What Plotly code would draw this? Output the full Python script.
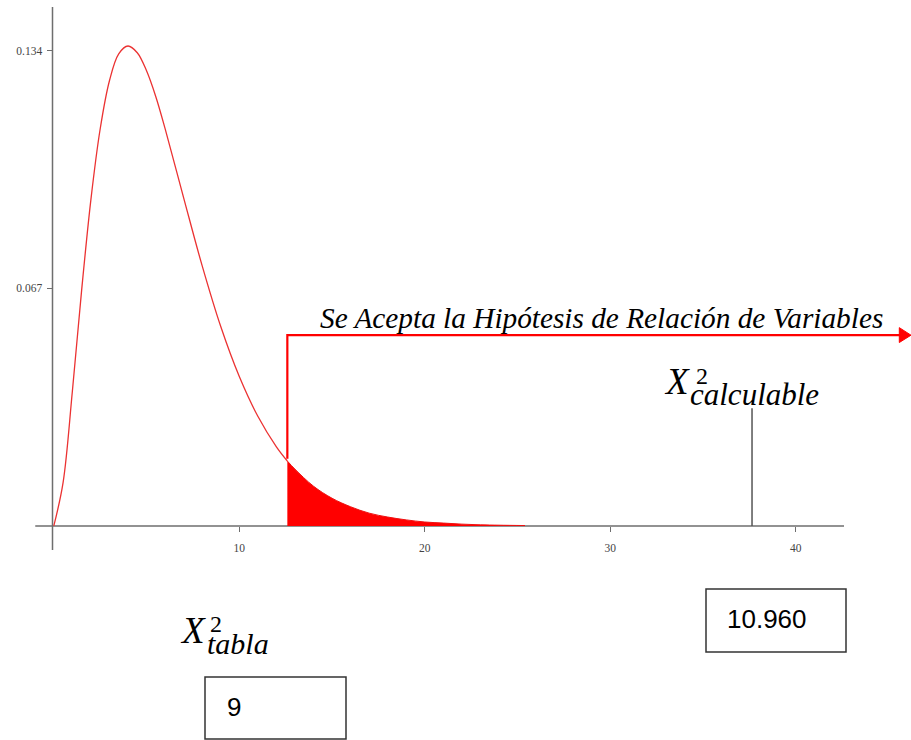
import plotly.graph_objects as go

# ---- data (chi-square density, df = 6) ----
curve_x = [0, 0.5, 1, 1.5, 2, 2.5, 3, 3.5, 4, 4.5, 5, 5.5, 6, 7, 8, 9, 10, 11, 12, 12.59]
curve_y = [0, 0.0122, 0.0379, 0.0664, 0.0920, 0.1119, 0.1255, 0.1331, 0.1353, 0.1334,
           0.1283, 0.1210, 0.1120, 0.0925, 0.0733, 0.0562, 0.0421, 0.0309, 0.0223, 0.0183]
tail_x = [12.59, 13, 14, 15, 16, 17, 18, 19, 20, 21, 22, 23, 24, 25.4]
tail_y = [0.0183, 0.0160, 0.0112, 0.0078, 0.0054, 0.0036, 0.0025, 0.0017, 0.0011,
          0.0008, 0.0005, 0.0003, 0.0002, 0.0001]
chi_crit = 12.59      # X2 tabla position on the axis
chi_calc = 37.64      # X2 calculable position on the axis
chi_calc_height = 0.0332
x_ticks = [10, 20, 30, 40]
y_ticks = [0.067, 0.134]
y_tick_text = ["0.067", "0.134"]
label_tabla = "9"
label_calc = "10.960"
arrow_text = "Se Acepta la Hipótesis de Relación de Variables"

W, H = 911, 740
X0, X1 = -2.900, 46.21
Y0, Y1 = -0.06036, 0.14827
def px(p):
    return p / W
def py(p):
    return 1 - p / H

fig = go.Figure()
fig.add_trace(go.Scatter(x=curve_x, y=curve_y, mode="lines", line=dict(color="rgb(235,50,50)", width=1.3, shape="spline"),
                         hoverinfo="skip", showlegend=False))
fig.add_trace(go.Scatter(x=tail_x, y=tail_y, mode="lines", fill="tozeroy", fillcolor="#ff0000",
                         line=dict(color="#ee1111", width=1, shape="spline"), hoverinfo="skip", showlegend=False))

axis_col = "#6e6e6e"
shapes = [
    # x axis line
    dict(type="line", xref="x", yref="y", x0=-1.0, x1=42.6, y0=0, y1=0, line=dict(color=axis_col, width=1.5), layer="below"),
    # y axis line
    dict(type="line", xref="paper", yref="y", x0=px(52.5), x1=px(52.5), y0=-0.0068, y1=0.1463, line=dict(color=axis_col, width=1.5), layer="below"),
    # calculated value line
    dict(type="line", xref="x", yref="y", x0=chi_calc, x1=chi_calc, y0=0, y1=chi_calc_height, line=dict(color="#555555", width=1.5)),
    # red arrow path
    dict(type="path", xref="x", yref="y", path=f"M {chi_crit},0.0189 L {chi_crit},0.05377 L 45.62,0.05377",
         line=dict(color="#ff0000", width=2.2)),
    dict(type="path", xref="x", yref="y", path="M 45.58,0.0559 L 46.21,0.05377 L 45.58,0.0517 Z",
         fillcolor="#ff0000", line=dict(color="#ff0000", width=1)),
    # boxes
    dict(type="rect", xref="paper", yref="paper", x0=px(205), x1=px(346), y0=py(739), y1=py(677), line=dict(color="#333333", width=1.5)),
    dict(type="rect", xref="paper", yref="paper", x0=px(706), x1=px(846), y0=py(652), y1=py(589), line=dict(color="#333333", width=1.5)),
]

serif = "Liberation Serif"
def ann(x, y, text, size, family, xanchor="left", color="black"):
    return dict(x=px(x), y=py(y), xref="paper", yref="paper", text=text, showarrow=False,
                xanchor=xanchor, yanchor="middle", borderpad=0,
                font=dict(size=size, family=family, color=color))

annotations = [
    ann(601.5, 318, f"<i>{arrow_text}</i>", 29.3, serif, xanchor="center"),
    # X2 calculable
    ann(663, 382, "<i>X</i>", 37, serif),
    ann(695, 376, "2", 24, serif),
    ann(689, 394, "<i>calculable</i>", 31, serif),
    # X2 tabla
    ann(179, 630, "<i>X</i>", 37, serif),
    ann(209, 624, "2", 24, serif),
    ann(206, 643, "<i>tabla</i>", 30, serif),
    # boxes text
    ann(726, 619, label_calc, 26, "Liberation Sans"),
    ann(226, 707, label_tabla, 26, "Liberation Sans"),
]

fig.update_layout(
    width=W, height=H, margin=dict(l=0, r=0, t=0, b=0),
    paper_bgcolor="white", plot_bgcolor="white", showlegend=False,
    shapes=shapes, annotations=annotations,
    xaxis=dict(range=[X0, X1], domain=[0, 1], anchor="free", position=py(525.9),
               tickvals=x_ticks, ticktext=[str(v) for v in x_ticks], ticks="outside", ticklen=5,
               tickcolor=axis_col, tickwidth=1, showline=False, showgrid=False, zeroline=False,
               ticklabelstandoff=6, tickfont=dict(family=serif, size=11.5, color="#444444")),
    yaxis=dict(range=[Y0, Y1], domain=[0, 1], anchor="free", position=px(52.5),
               tickvals=y_ticks, ticktext=y_tick_text, ticks="outside", ticklen=6,
               tickcolor=axis_col, tickwidth=1, showline=False, showgrid=False, zeroline=False,
               ticklabelstandoff=2, tickfont=dict(family=serif, size=11.5, color="#444444")),
)
fig.write_html("out.html", config={"displayModeBar": False},
               post_script="document.body.style.margin='0';document.body.style.overflow='hidden';")
